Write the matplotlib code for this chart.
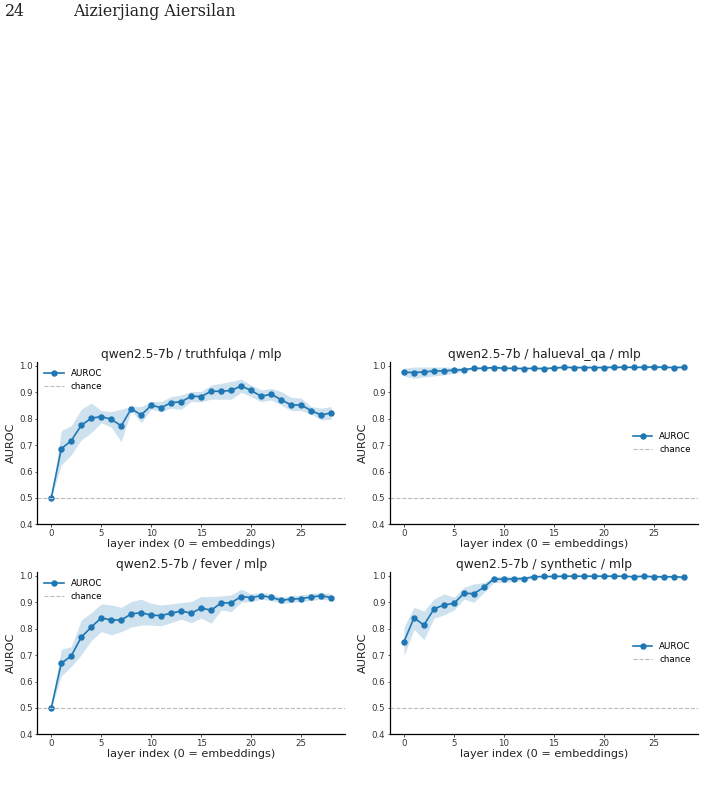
import numpy as np
import matplotlib
matplotlib.use("Agg")
import matplotlib.pyplot as plt

layers = list(range(29))

truthfulqa_mean = [0.500, 0.686, 0.717, 0.775, 0.802, 0.808, 0.798, 0.773, 0.838, 0.814,
                   0.851, 0.842, 0.861, 0.864, 0.885, 0.884, 0.904, 0.904, 0.907, 0.924,
                   0.907, 0.885, 0.893, 0.872, 0.852, 0.852, 0.831, 0.814, 0.822]
truthfulqa_hi = [0.500, 0.755, 0.773, 0.836, 0.859, 0.831, 0.827, 0.836, 0.846, 0.846,
                 0.865, 0.865, 0.884, 0.890, 0.903, 0.903, 0.928, 0.934, 0.941, 0.950,
                 0.928, 0.909, 0.915, 0.903, 0.881, 0.878, 0.846, 0.840, 0.846]
truthfulqa_lo = [0.500, 0.625, 0.663, 0.720, 0.747, 0.785, 0.768, 0.713, 0.831, 0.785,
                 0.836, 0.827, 0.840, 0.836, 0.865, 0.864, 0.874, 0.874, 0.874, 0.900,
                 0.884, 0.864, 0.871, 0.852, 0.831, 0.831, 0.818, 0.795, 0.798]

halueval_mean = [0.976, 0.975, 0.977, 0.981, 0.981, 0.984, 0.986, 0.991, 0.991, 0.994,
                 0.991, 0.991, 0.990, 0.991, 0.990, 0.992, 0.995, 0.994, 0.994, 0.994,
                 0.994, 0.995, 0.995, 0.995, 0.995, 0.996, 0.995, 0.994, 0.995]
halueval_hi = [0.991, 0.996, 0.996, 0.996, 0.996, 0.994, 0.993, 0.995, 0.994, 0.997,
               0.994, 0.994, 0.993, 0.994, 0.993, 0.995, 0.998, 0.997, 0.997, 0.997,
               0.997, 0.998, 0.998, 0.998, 0.998, 0.999, 0.998, 0.997, 0.998]
halueval_lo = [0.962, 0.953, 0.958, 0.962, 0.966, 0.973, 0.979, 0.987, 0.988, 0.991,
               0.988, 0.988, 0.987, 0.988, 0.987, 0.989, 0.992, 0.991, 0.991, 0.991,
               0.991, 0.992, 0.992, 0.992, 0.992, 0.993, 0.992, 0.991, 0.992]

fever_mean = [0.500, 0.669, 0.697, 0.768, 0.806, 0.841, 0.833, 0.833, 0.856, 0.861,
              0.851, 0.850, 0.859, 0.867, 0.859, 0.878, 0.870, 0.898, 0.898, 0.922,
              0.918, 0.925, 0.919, 0.908, 0.912, 0.914, 0.920, 0.925, 0.918]
fever_hi = [0.510, 0.722, 0.732, 0.833, 0.861, 0.894, 0.890, 0.881, 0.903, 0.912,
            0.896, 0.890, 0.894, 0.899, 0.903, 0.922, 0.922, 0.924, 0.928, 0.950,
            0.932, 0.937, 0.932, 0.919, 0.924, 0.928, 0.934, 0.937, 0.932]
fever_lo = [0.500, 0.621, 0.657, 0.701, 0.755, 0.789, 0.777, 0.789, 0.806, 0.814,
            0.814, 0.811, 0.823, 0.836, 0.823, 0.840, 0.821, 0.871, 0.865, 0.900,
            0.903, 0.912, 0.907, 0.896, 0.899, 0.903, 0.907, 0.912, 0.907]

synthetic_mean = [0.751, 0.841, 0.814, 0.875, 0.890, 0.896, 0.934, 0.933, 0.957, 0.989,
                  0.987, 0.989, 0.990, 0.997, 0.998, 0.998, 0.999, 0.999, 0.999, 0.999,
                  0.999, 0.999, 0.999, 0.997, 0.999, 0.997, 0.997, 0.997, 0.995]
synthetic_hi = [0.806, 0.881, 0.867, 0.912, 0.932, 0.919, 0.957, 0.970, 0.975, 0.997,
                1.000, 0.998, 0.998, 0.999, 1.000, 1.000, 1.000, 1.000, 1.000, 1.000,
                1.000, 1.000, 1.000, 0.999, 1.000, 0.999, 0.999, 0.999, 0.998]
synthetic_lo = [0.697, 0.798, 0.758, 0.840, 0.852, 0.871, 0.912, 0.900, 0.937, 0.976,
                0.975, 0.979, 0.982, 0.993, 0.995, 0.995, 0.997, 0.997, 0.997, 0.997,
                0.997, 0.997, 0.997, 0.994, 0.997, 0.994, 0.994, 0.994, 0.991]

titles = ["qwen2.5-7b / truthfulqa / mlp", "qwen2.5-7b / halueval_qa / mlp",
          "qwen2.5-7b / fever / mlp", "qwen2.5-7b / synthetic / mlp"]
yticks = [0.4, 0.5, 0.6, 0.7, 0.8, 0.9, 1.0]
xticks = [0, 5, 10, 15, 20, 25]

panels = [
    (truthfulqa_mean, truthfulqa_lo, truthfulqa_hi, "upper left"),
    (halueval_mean, halueval_lo, halueval_hi, "center right"),
    (fever_mean, fever_lo, fever_hi, "upper left"),
    (synthetic_mean, synthetic_lo, synthetic_hi, "center right"),
]

W, H = 705, 789
fig = plt.figure(figsize=(W / 100, H / 100), dpi=100)
plt.rcParams['font.family'] = ['DejaVu Sans']

# page header
fig.text(5 / W, 1 - 12 / H, "24", family="DejaVu Serif", fontsize=11.4,
         va="center", ha="left", color="#222222")
fig.text(73 / W, 1 - 12 / H, "Aizierjiang Aiersilan", family="DejaVu Serif",
         fontsize=11.4, va="center", ha="left", color="#222222")

lefts = [37.3, 390.0]
tops = [361.7, 571.7]
aw, ah = 307.8, 162.6
blue = "#1f77b4"

for i, (mean, lo, hi, loc) in enumerate(panels):
    r, c = divmod(i, 2)
    ax = fig.add_axes([lefts[c] / W, 1 - (tops[r] + ah) / H, aw / W, ah / H])
    ax.fill_between(layers, lo, hi, color=blue, alpha=0.22, linewidth=0)
    ax.plot(layers, mean, color=blue, marker="o", markersize=3.6, linewidth=1.2,
            label="AUROC")
    ax.axhline(0.5, color="#bbbbbb", linestyle="--", linewidth=0.8, label="chance")
    ax.set_ylim(0.4, 1.016)
    ax.set_xlim(-1.4, 29.4)
    ax.set_yticks(yticks)
    ax.set_xticks(xticks)
    ax.set_title(titles[i], fontsize=8.8, pad=3, color="#222222")
    ax.set_xlabel("layer index (0 = embeddings)", fontsize=8.1, labelpad=0.5, color="#222222")
    ax.set_ylabel("AUROC", fontsize=8.1, labelpad=2.5, color="#222222")
    ax.tick_params(labelsize=6.2, length=1.8, width=0.6, pad=1.5, colors="#333333")
    for s in ["top", "right"]:
        ax.spines[s].set_visible(False)
    for s in ["left", "bottom"]:
        ax.spines[s].set_linewidth(0.9)
    ax.legend(loc=loc, frameon=False, fontsize=6.3, handlelength=2.2,
              borderaxespad=0.4, labelspacing=0.45)

fig.savefig("out.png", dpi=100)
